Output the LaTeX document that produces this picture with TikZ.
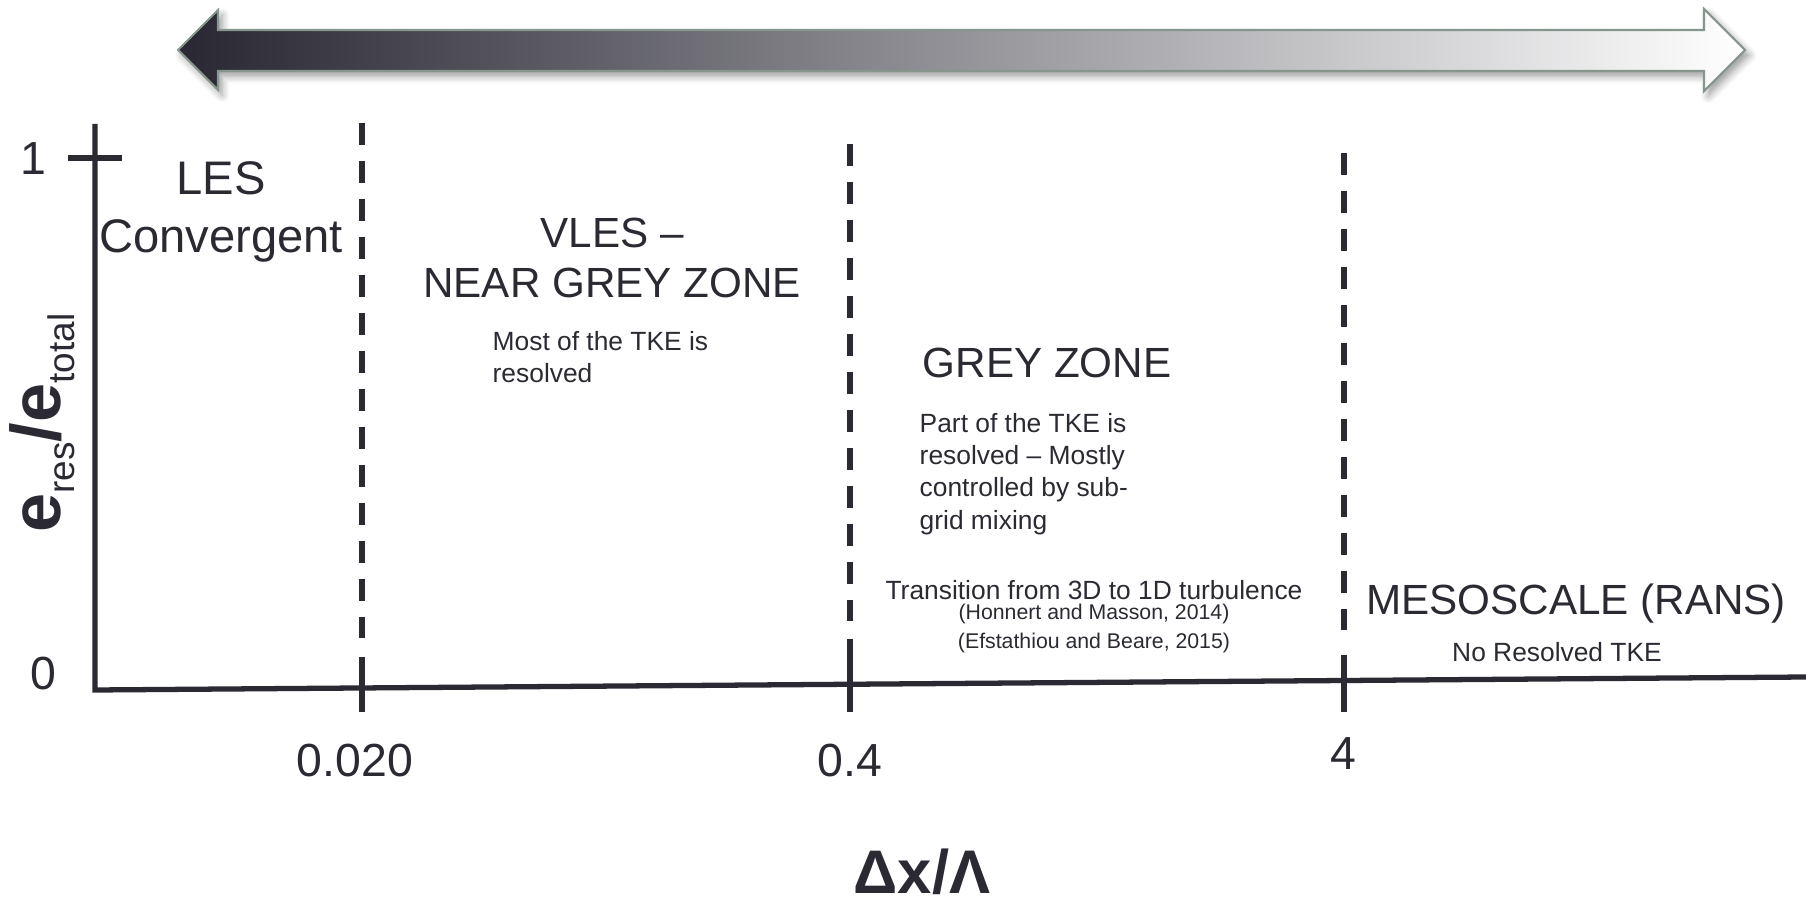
\documentclass[tikz,border=0pt]{standalone}
\usepackage{fontspec}
\setmainfont{Liberation Sans}
\usetikzlibrary{shadows.blur}
\definecolor{inkgrey}{RGB}{43,42,51}
\definecolor{rimgrey}{RGB}{135,150,140}
\definecolor{darkend}{RGB}{40,39,50}

\begin{document}
\begin{tikzpicture}[x=0.01cm, y=-0.01cm,
    zone/.style={text=inkgrey, inner sep=0pt, align=center,
                 font=\fontsize{12}{14.2}\selectfont},
    note/.style={text=inkgrey, inner sep=0pt, align=left,
                 font=\fontsize{7.5}{9}\selectfont},
    cite/.style={text=inkgrey, inner sep=0pt, font=\fontsize{6.05}{7}\selectfont},
    ticklab/.style={text=inkgrey, inner sep=0pt, font=\fontsize{13.2}{15}\selectfont},
    axisline/.style={draw=inkgrey, line width=1.5pt},
    divider/.style={draw=inkgrey, line width=1.5pt, dash pattern=on 6.2pt off 4.6pt}
]
\useasboundingbox (0,0) rectangle (1806,907);

% resolution arrow
\path[blur shadow={shadow xshift=1.2pt, shadow yshift=-1.5pt, shadow blur steps=6, shadow opacity=40},
      left color=darkend, right color=white, draw=rimgrey, line width=0.6pt]
  (178,50) -- (218,10) -- (218,30) -- (1704,30) -- (1704,9) -- (1745,50)
  -- (1704,91) -- (1704,71) -- (218,71) -- (218,90) -- cycle;

% axes
\coordinate (origin) at (95,690);
\coordinate (ytop)   at (95,124);
\coordinate (xend)   at (1806,677);
\draw[axisline] (ytop) -- (origin) -- (xend);
\draw[axisline] (68,158) -- (122,158);

\foreach \x/\top/\dend/\tstart in {362/123/638/657, 850/144/621/639, 1344/153/630/655} {
  \draw[divider]  (\x,\top) -- (\x,\dend);
  \draw[axisline] (\x,\tstart) -- (\x,712);
}

\node[ticklab] (one)  at (33,159)   {1};
\node[ticklab] (zero) at (43,674)   {0};
\node[ticklab] (t1)   at (355,761)  {0.020};
\node[ticklab] (t2)   at (850,761)  {0.4};
\node[ticklab] (t3)   at (1343,754) {4};

\node[text=inkgrey, rotate=90, inner sep=0pt] (ylab) at (42,423)
  {\fontsize{20}{24}\selectfont\bfseries e\raisebox{-4pt}{\fontsize{10.5}{12}\selectfont\mdseries res}/e\raisebox{-4pt}{\fontsize{10.5}{12}\selectfont\mdseries total}};
\node[text=inkgrey, inner sep=0pt, font=\fontsize{17.5}{20}\selectfont\bfseries] (xlab) at (922,872) {Δx/Λ};

% regimes
\node[zone, font=\fontsize{13.4}{16.5}\selectfont] (les) at (221,212) {LES\\Convergent};
\node[zone] (vles) at (612,258) {VLES –\\NEAR GREY ZONE};
\node[note, anchor=west] (vlesnote) at (492,357) {Most of the TKE is\\resolved};
\node[zone] (grey) at (1047,363) {GREY ZONE};
\node[note, anchor=west, font=\fontsize{7.5}{9.2}\selectfont] (greynote) at (919,474)
  {Part of the TKE is\\resolved – Mostly\\controlled by sub-\\grid mixing};
\node[note] (trans) at (1094,590) {Transition from 3D to 1D turbulence};
\node[cite] (honnert) at (1094,614) {(Honnert and Masson, 2014)};
\node[cite] (efst)    at (1094,643) {(Efstathiou and Beare, 2015)};
\node[zone] (meso) at (1576,604) {MESOSCALE (RANS)};
\node[note] (mesonote) at (1557,652) {No Resolved TKE};
\end{tikzpicture}
\end{document}
